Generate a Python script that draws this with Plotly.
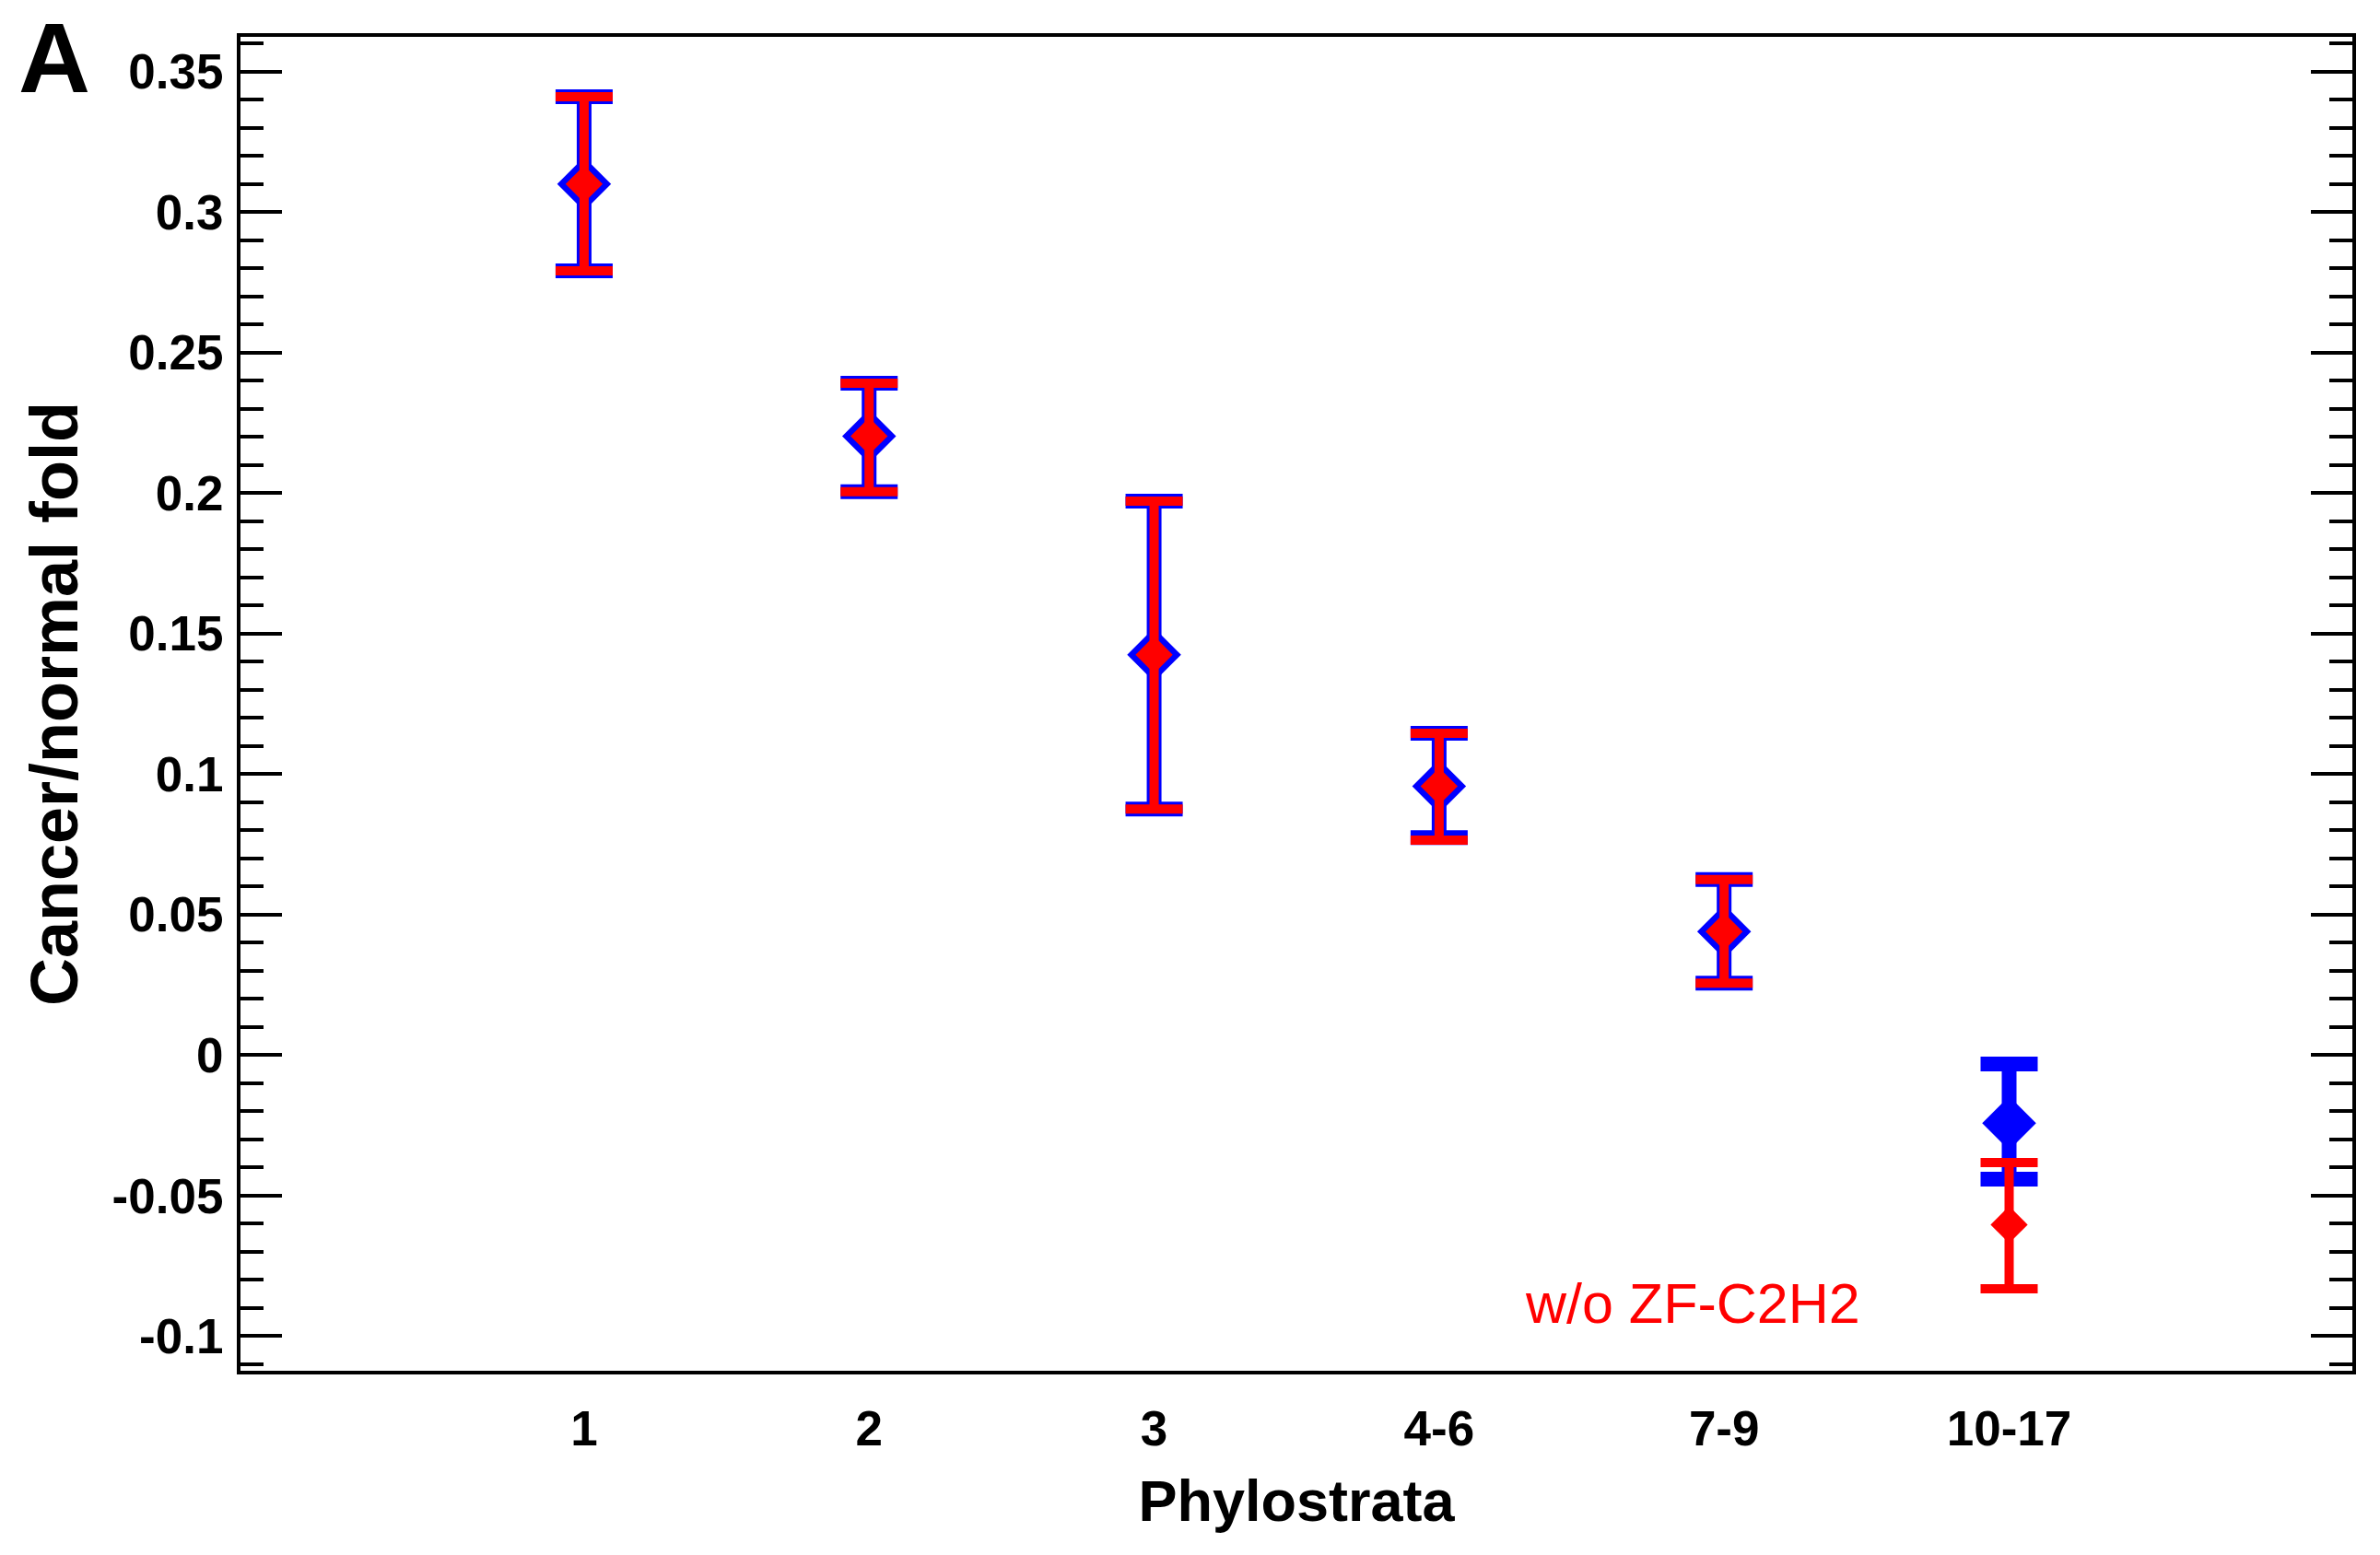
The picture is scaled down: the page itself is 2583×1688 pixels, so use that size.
import plotly.graph_objects as go

# ---- data ----
categories = ["1", "2", "3", "4-6", "7-9", "10-17"]
x_pos = [1, 2, 3, 4, 5, 6]

all_mean = [0.3100, 0.2203, 0.1425, 0.0957, 0.0440, -0.0242]
all_upper = [0.3411, 0.2391, 0.1972, 0.1146, 0.0625, -0.0031]
all_lower = [0.2791, 0.2005, 0.0876, 0.0774, 0.0256, -0.0441]

woz_mean = [0.3100, 0.2203, 0.1425, 0.0957, 0.0440, -0.0603]
woz_upper = [0.3411, 0.2391, 0.1972, 0.1146, 0.0625, -0.0382]
woz_lower = [0.2791, 0.2005, 0.0876, 0.0765, 0.0256, -0.0831]

y_tickvals = [-0.1, -0.05, 0, 0.05, 0.1, 0.15, 0.2, 0.25, 0.3, 0.35]
y_ticktext = ["-0.1", "-0.05", "0", "0.05", "0.1", "0.15", "0.2", "0.25", "0.3", "0.35"]

BLUE = "#0000FF"
RED = "#FF0000"
FONT = "Liberation Sans, Arial, sans-serif"

fig = go.Figure()

fig.add_trace(go.Scatter(
    x=x_pos, y=all_mean, mode="markers",
    marker=dict(symbol="diamond", size=45, color=BLUE, line=dict(width=0)),
    error_y=dict(type="data", symmetric=False,
                 array=[u - m for u, m in zip(all_upper, all_mean)],
                 arrayminus=[m - l for m, l in zip(all_mean, all_lower)],
                 color=BLUE, thickness=16, width=31),
    showlegend=False, name="all",
))

fig.add_trace(go.Scatter(
    x=x_pos, y=woz_mean, mode="markers",
    marker=dict(symbol="diamond", size=31, color=RED, line=dict(width=0)),
    error_y=dict(type="data", symmetric=False,
                 array=[u - m for u, m in zip(woz_upper, woz_mean)],
                 arrayminus=[m - l for m, l in zip(woz_mean, woz_lower)],
                 color=RED, thickness=10, width=31),
    showlegend=False, name="w/o ZF-C2H2",
))

fig.update_layout(
    width=2583, height=1688,
    margin=dict(l=261, r=30, t=40, b=200, pad=0),
    paper_bgcolor="white", plot_bgcolor="white",
    font=dict(family=FONT, color="black"),
    xaxis=dict(
        range=[-0.2057, 7.2043],
        tickmode="array", tickvals=x_pos, ticktext=categories,
        ticks="", showgrid=False, zeroline=False,
        showline=True, linecolor="black", linewidth=4, mirror=True,
        tickfont=dict(family=FONT, size=53, weight="bold", color="black"),
        ticklabelstandoff=13,
        title=dict(text="Phylostrata",
                   font=dict(family=FONT, size=63, weight="bold", color="black"),
                   standoff=29),
    ),
    yaxis=dict(
        range=[-0.1123, 0.3624],
        tickmode="array", tickvals=y_tickvals, ticktext=y_ticktext,
        ticks="inside", ticklen=45, tickwidth=4, tickcolor="black",
        minor=dict(dtick=0.01, tick0=0, ticks="inside", ticklen=25,
                   tickwidth=4, tickcolor="black", showgrid=False),
        showgrid=False, zeroline=False,
        showline=True, linecolor="black", linewidth=4, mirror="ticks",
        tickfont=dict(family=FONT, size=53, weight="bold", color="black"),
        ticklabelstandoff=4,
        title=dict(text="Cancer/normal fold",
                   font=dict(family=FONT, size=72, weight="bold", color="black"),
                   standoff=14),
    ),
    annotations=[
        dict(text="w/o ZF-C2H2", x=4.89, y=-0.0885, xref="x", yref="y",
             xanchor="center", yanchor="middle", showarrow=False,
             font=dict(family=FONT, size=61, color=RED)),
        dict(text="A", x=59, y=1.0, xref="paper", yref="paper",
             xanchor="center", yanchor="middle", yshift=-22, showarrow=False,
             font=dict(family=FONT, size=108, weight="bold", color="black")),
    ],
)
# place "A" label at ~59 px from the left edge of the figure
fig.layout.annotations[1].x = (59 - 261) / (2583 - 261 - 30)

fig.write_html("out.html", config={"displayModeBar": False},
               post_script="document.body.style.margin='0';")
